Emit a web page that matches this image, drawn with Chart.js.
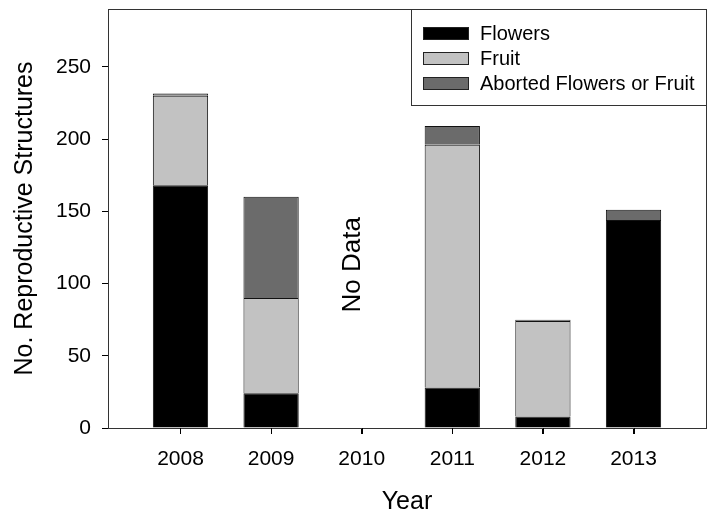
<!DOCTYPE html>
<html>
<head>
<meta charset="utf-8">
<script src="https://cdn.jsdelivr.net/npm/chart.js@4"></script>
<style>
  html, body { margin: 0; padding: 0; background: #fff; }
  #wrap { width: 711px; height: 514px; }
</style>
</head>
<body>
<div id="wrap"><canvas id="repChart" width="711" height="514"></canvas></div>
<script>
const years = [2008, 2009, 2011, 2012, 2013];
const yearTicks = [2008, 2009, 2010, 2011, 2012, 2013];
const flowers = [168, 24, 28, 8, 144];
const fruit = [62, 66, 168, 66, 0];
const aborted = [1.5, 70, 13, 1, 7];
const yTicks = [0, 50, 100, 150, 200, 250];

const FONT = "'Liberation Sans', Arial, sans-serif";

function pts(vals) {
    return vals.map((v, i) => ({ x: years[i], y: v }));
}

// full box round the plot area, plus the year tick marks
const frame = {
    id: 'frame',
    afterDraw(chart) {
        const { ctx, chartArea: a, scales } = chart;
        ctx.save();
        ctx.strokeStyle = '#333';
        ctx.lineWidth = 1;
        ctx.strokeRect(a.left + 0.5, a.top + 0.5, a.right - a.left, a.bottom - a.top);
        ctx.strokeStyle = '#000';
        ctx.beginPath();
        yearTicks.forEach(v => {
            const x = Math.round(scales.x.getPixelForValue(v)) + 0.5;
            ctx.moveTo(x, a.bottom);
            ctx.lineTo(x, a.bottom + 6);
        });
        ctx.stroke();
        ctx.restore();
    }
};

// "No Data" note at 2010
const noData = {
    id: 'noData',
    afterDatasetsDraw(chart) {
        const { ctx, scales } = chart;
        const x = scales.x.getPixelForValue(2009.9);
        const y = scales.y.getPixelForValue(113);
        ctx.save();
        ctx.translate(x, y);
        ctx.rotate(-Math.PI / 2);
        ctx.font = '26px ' + FONT;
        ctx.fillStyle = '#000';
        ctx.textAlign = 'center';
        ctx.textBaseline = 'middle';
        ctx.fillText('No Data', 0, 0);
        ctx.restore();
    }
};

// boxed legend in the top right corner
const boxLegend = {
    id: 'boxLegend',
    afterDraw(chart) {
        const { ctx, chartArea: a } = chart;
        const w = 295, h = 96;
        const left = a.right - w, top = a.top;
        ctx.save();
        ctx.fillStyle = '#fff';
        ctx.fillRect(left, top, w, h);
        ctx.strokeStyle = '#333';
        ctx.lineWidth = 1;
        ctx.strokeRect(left + 0.5, top + 0.5, w, h);
        ctx.font = '20px ' + FONT;
        ctx.textBaseline = 'middle';
        chart.data.datasets.forEach((ds, i) => {
            const cy = top + 24 + i * 25;
            ctx.fillStyle = ds.backgroundColor;
            ctx.fillRect(left + 12, cy - 6, 45, 12);
            ctx.strokeStyle = '#222';
            ctx.strokeRect(left + 12.5, cy - 5.5, 45, 12);
            ctx.fillStyle = '#000';
            ctx.fillText(ds.label, left + 69, cy + 1);
        });
        ctx.restore();
    }
};

new Chart(document.getElementById('repChart'), {
    type: 'bar',
    data: {
        datasets: [
            { label: 'Flowers', data: pts(flowers), backgroundColor: '#000000', borderColor: '#111', borderWidth: 1 },
            { label: 'Fruit', data: pts(fruit), backgroundColor: '#c2c2c2', borderColor: '#111', borderWidth: 1 },
            { label: 'Aborted Flowers or Fruit', data: pts(aborted), backgroundColor: '#6b6b6b', borderColor: '#111', borderWidth: 1 }
        ]
    },
    options: {
        responsive: false,
        animation: false,
        barPercentage: 0.61,
        categoryPercentage: 1,
        layout: { padding: { left: 0, right: 5, top: 9, bottom: 0 } },
        plugins: {
            legend: { display: false },
            tooltip: { enabled: false }
        },
        scales: {
            x: {
                type: 'linear',
                stacked: true,
                offset: false,
                min: 2007.2,
                max: 2013.8,
                afterBuildTicks: (s) => { s.ticks = yearTicks.map(v => ({ value: v })); },
                afterFit: (s) => { s.height = 86; s.paddingLeft = 0; s.paddingRight = 0; },
                ticks: {
                    callback: (v) => String(v),
                    color: '#000',
                    font: { family: FONT, size: 21 },
                    padding: 13
                },
                grid: { offset: false, drawOnChartArea: false, tickLength: 6, tickColor: '#000' },
                border: { color: '#333' },
                title: {
                    display: true,
                    text: 'Year',
                    color: '#000',
                    font: { family: FONT, size: 25 },
                    padding: { bottom: -3 }
                }
            },
            y: {
                stacked: true,
                min: 0,
                max: 290,
                afterBuildTicks: (s) => { s.ticks = yTicks.map(v => ({ value: v })); },
                afterFit: (s) => { s.width = 108; s.paddingTop = 0; s.paddingBottom = 0; },
                ticks: {
                    color: '#000',
                    font: { family: FONT, size: 21 },
                    padding: 11
                },
                grid: { drawOnChartArea: false, tickLength: 6, tickColor: '#000' },
                border: { color: '#333' },
                title: {
                    display: true,
                    text: 'No. Reproductive Structures',
                    color: '#000',
                    font: { family: FONT, size: 25 },
                    padding: { top: 10 }
                }
            }
        }
    },
    plugins: [frame, noData, boxLegend]
});
</script>
</body>
</html>
